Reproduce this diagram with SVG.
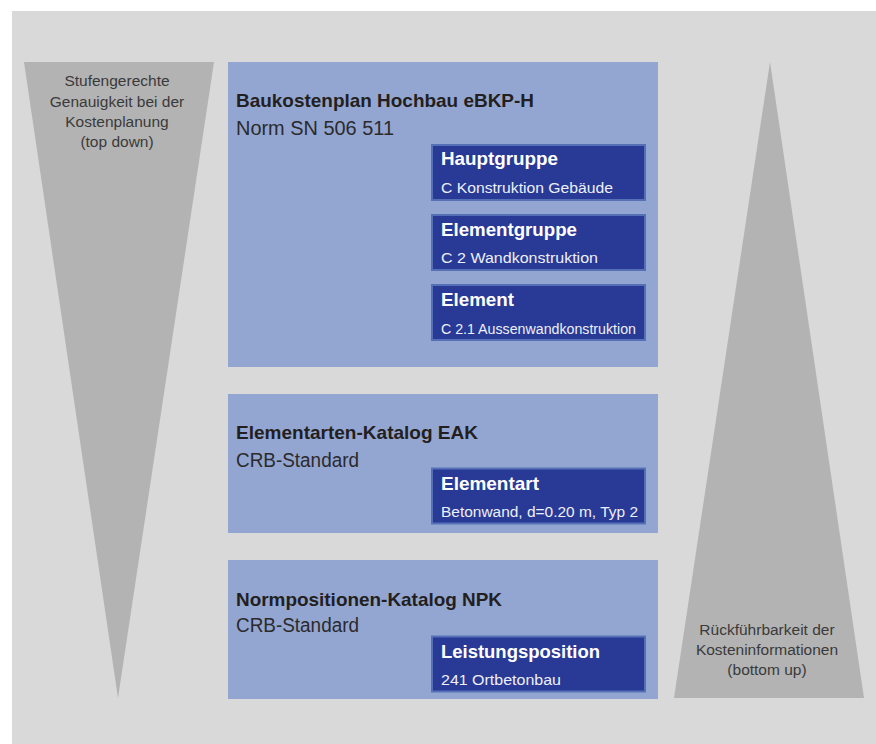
<svg xmlns="http://www.w3.org/2000/svg" width="876" height="744" viewBox="0 0 876 744">
<style>
text{font-family:"Liberation Sans",Arial,Helvetica,sans-serif}
.bg{fill:#d9d9d9}
.tri{fill:#b3b3b3}
.outer{fill:#93a6d1}
.inner{fill:#283a96;stroke:#5670b8;stroke-width:2}
.h{font-weight:bold;font-size:19px;fill:#231f20}
.s{font-size:19.5px;fill:#2b2a2c}
.ih{font-weight:bold;font-size:18.5px;fill:#ffffff}
.is{font-size:15.5px;fill:#eef0f8}
.tt{font-size:15.5px;fill:#3a3a3a;text-anchor:middle}
</style>
<rect class="bg" x="12" y="11" width="864" height="733"/>
<g id="topdown">
<polygon class="tri" points="24,62 214,62 118,698"/>
<text class="tt" x="117" y="86">Stufengerechte</text>
<text class="tt" x="117" y="106.5">Genauigkeit bei der</text>
<text class="tt" x="117" y="127">Kostenplanung</text>
<text class="tt" x="117" y="147">(top down)</text>
</g>
<g id="bottomup">
<polygon class="tri" points="770,62 864,698 674,698"/>
<text class="tt" x="767" y="635">Rückführbarkeit der</text>
<text class="tt" x="767" y="655">Kosteninformationen</text>
<text class="tt" x="767" y="675">(bottom up)</text>
</g>
<g id="ebkp">
<rect class="outer" x="228" y="62" width="430" height="305"/>
<text class="h" x="236" y="107" textLength="298" lengthAdjust="spacingAndGlyphs">Baukostenplan Hochbau eBKP-H</text>
<text class="s" x="236" y="135" textLength="158" lengthAdjust="spacingAndGlyphs">Norm SN 506 511</text>
</g>
<g id="hauptgruppe">
<rect class="inner" x="432" y="145" width="213" height="55"/>
<text class="ih" x="441" y="165" textLength="117" lengthAdjust="spacingAndGlyphs">Hauptgruppe</text>
<text class="is" x="441" y="193" textLength="172" lengthAdjust="spacingAndGlyphs">C Konstruktion Gebäude</text>
</g>
<g id="elementgruppe">
<rect class="inner" x="432" y="215" width="213" height="55"/>
<text class="ih" x="441" y="236" textLength="136" lengthAdjust="spacingAndGlyphs">Elementgruppe</text>
<text class="is" x="441" y="263" textLength="157" lengthAdjust="spacingAndGlyphs">C 2 Wandkonstruktion</text>
</g>
<g id="element">
<rect class="inner" x="432" y="285" width="213" height="55"/>
<text class="ih" x="441" y="306" textLength="73" lengthAdjust="spacingAndGlyphs">Element</text>
<text class="is" x="441" y="334" textLength="195" lengthAdjust="spacingAndGlyphs">C 2.1 Aussenwandkonstruktion</text>
</g>
<g id="eak">
<rect class="outer" x="228" y="394" width="430" height="139"/>
<text class="h" x="236" y="439" textLength="242" lengthAdjust="spacingAndGlyphs">Elementarten-Katalog EAK</text>
<text class="s" x="236" y="467" textLength="123" lengthAdjust="spacingAndGlyphs">CRB-Standard</text>
</g>
<g id="elementart">
<rect class="inner" x="432" y="468.5" width="213" height="55"/>
<text class="ih" x="441" y="490" textLength="98" lengthAdjust="spacingAndGlyphs">Elementart</text>
<text class="is" x="441" y="517" textLength="197" lengthAdjust="spacingAndGlyphs">Betonwand, d=0.20 m, Typ 2</text>
</g>
<g id="npk">
<rect class="outer" x="228" y="560" width="430" height="139"/>
<text class="h" x="236" y="606" textLength="266" lengthAdjust="spacingAndGlyphs">Normpositionen-Katalog NPK</text>
<text class="s" x="236" y="632" textLength="123" lengthAdjust="spacingAndGlyphs">CRB-Standard</text>
</g>
<g id="leistungsposition">
<rect class="inner" x="432" y="636.5" width="213" height="55"/>
<text class="ih" x="441" y="658" textLength="159" lengthAdjust="spacingAndGlyphs">Leistungsposition</text>
<text class="is" x="441" y="685" textLength="120" lengthAdjust="spacingAndGlyphs">241 Ortbetonbau</text>
</g>
<g id="connectors"/>
</svg>
